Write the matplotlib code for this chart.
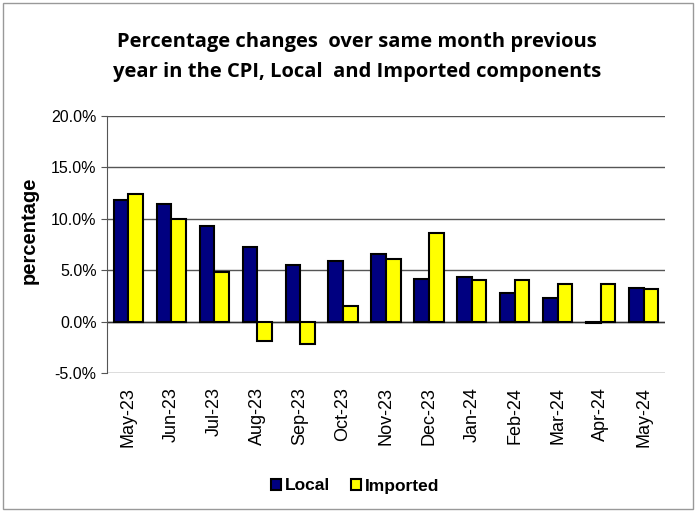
import numpy as np
import matplotlib.pyplot as plt
from matplotlib.patches import Rectangle

months = ['May-23', 'Jun-23', 'Jul-23', 'Aug-23', 'Sep-23', 'Oct-23', 'Nov-23',
          'Dec-23', 'Jan-24', 'Feb-24', 'Mar-24', 'Apr-24', 'May-24']
local = [11.8, 11.4, 9.3, 7.3, 5.5, 5.9, 6.6, 4.1, 4.3, 2.8, 2.3, -0.15, 3.3]
imported = [12.4, 10.0, 4.85, -1.9, -2.2, 1.55, 6.05, 8.6, 4.0, 4.0, 3.65, 3.65, 3.15]

fig = plt.figure(figsize=(6.96, 5.12), dpi=100)
ax = fig.add_axes([107/696, 1 - 373/512, (665 - 107)/696, (373 - 116)/512])

x = np.arange(len(months))
w = 0.34
ax.bar(x - w/2, local, w, color='#000080', edgecolor='black', linewidth=1.5,
       label='Local', zorder=3)
ax.bar(x + w/2, imported, w, color='#ffff00', edgecolor='black', linewidth=1.5,
       label='Imported', zorder=3)

ax.set_xlim(-0.5, len(months) - 0.5)
ax.set_ylim(-5, 20)
ax.set_yticks(np.arange(-5, 21, 5))
ax.set_yticklabels([f'{v:.1f}%' for v in np.arange(-5, 21, 5)],
                   fontfamily='Liberation Sans', fontsize=11.5)
ax.set_xticks(x)
ax.set_xticklabels(months, rotation=90, fontfamily='Liberation Sans', fontsize=13)
ax.tick_params(axis='x', length=0, pad=10)
ax.tick_params(axis='y', length=4, color='#555555')
ax.yaxis.grid(True, color='#555555', linewidth=1, zorder=0)
ax.axhline(0, color='#333333', linewidth=1, zorder=2)
for s in ['top', 'right', 'bottom']:
    ax.spines[s].set_visible(False)
ax.spines['left'].set_color('#555555')

ax.set_ylabel('percentage', fontfamily='Liberation Sans', fontweight='bold',
              fontsize=14.5, labelpad=4)
ax.yaxis.set_label_coords(-(107 - 39)/558, (373 - 230)/257)

fig.text(357/696, 1 - 57/512,
         'Percentage changes  over same month previous\nyear in the CPI, Local  and Imported components',
         ha='center', va='center', fontfamily='Open Sans', fontweight='bold',
         fontsize=14.5, linespacing=1.6)

leg = fig.legend(loc='center', bbox_to_anchor=(355/696, 1 - 486/512), ncol=2,
                 frameon=False, prop={'family': 'Liberation Sans', 'weight': 'bold', 'size': 12.5},
                 handlelength=0.6, handleheight=0.6, handletextpad=0.2, columnspacing=1.2)

fig.patches.append(Rectangle((3/696, 3/512), 690/696, 506/512, transform=fig.transFigure,
                             fill=False, edgecolor='#999999', linewidth=1))

fig.savefig('out.png', dpi=100)
